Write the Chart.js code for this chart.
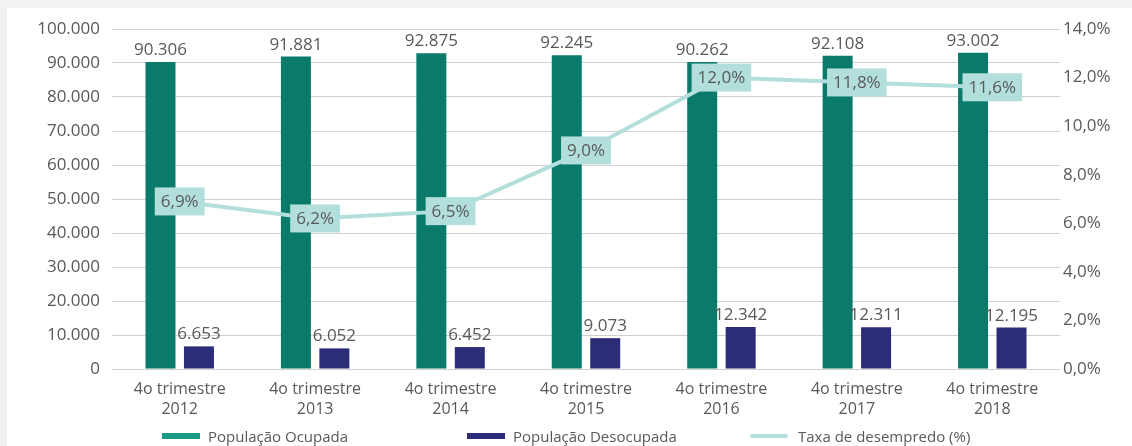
<!DOCTYPE html>
<html lang="pt-BR">
<head>
<meta charset="utf-8">
<script src="https://cdn.jsdelivr.net/npm/chart.js@4.4.1/dist/chart.umd.min.js"></script>
<style>
    html, body { margin: 0; padding: 0; }
    body { width: 1132px; height: 446px; background: #f2f2f2; position: relative; overflow: hidden; font-family: "Open Sans", sans-serif; }
    #painel { position: absolute; left: 7px; top: 8px; right: 0; bottom: 0; background: #fff; }
    #grafico { position: absolute; left: 0; top: 0; }
    #legenda { position: absolute; left: 0; top: 427px; width: 1132px; height: 18px; font-size: 15px; color: #595959; }
    .item { position: absolute; top: 0; height: 18px; display: flex; align-items: center; white-space: nowrap; }
    .item i { display: inline-block; width: 38px; height: 6px; margin-right: 8px; }
    .item i.linha { height: 4px; border-radius: 2px; margin-right: 10px; }
</style>
</head>
<body>
<div id="painel"></div>
<canvas id="grafico" width="1132" height="446"></canvas>
<div id="legenda">
    <div class="item" style="left:162px"><i style="background:#1b9a88"></i>População Ocupada</div>
    <div class="item" style="left:467px"><i style="background:#2b2d78"></i>População Desocupada</div>
    <div class="item" style="left:750px"><i class="linha" style="background:#b2dfdb"></i>Taxa de desempredo (%)</div>
</div>
<script>
// dados (milhares de pessoas e taxa em %)
const categorias = [
    ['4o trimestre', '2012'], ['4o trimestre', '2013'], ['4o trimestre', '2014'],
    ['4o trimestre', '2015'], ['4o trimestre', '2016'], ['4o trimestre', '2017'],
    ['4o trimestre', '2018']
];
const populacaoOcupada = [90306, 91881, 92875, 92245, 90262, 92108, 93002];
const populacaoDesocupada = [6653, 6052, 6452, 9073, 12342, 12311, 12195];
const taxaDesemprego = [6.9, 6.2, 6.5, 9.0, 12.0, 11.8, 11.6];
const ticksPopulacao = [0, 10000, 20000, 30000, 40000, 50000, 60000, 70000, 80000, 90000, 100000];
const ticksTaxa = [0, 2, 4, 6, 8, 10, 12, 14];

const corTexto = '#595959';
const fonte = '"Open Sans", sans-serif';

function formatarMilhar(v) {
    return String(Math.round(v)).replace(/\B(?=(\d{3})+(?!\d))/g, '.');
}
function formatarTaxa(v) {
    return v.toFixed(1).replace('.', ',') + '%';
}

// rótulos em cima das barras e caixas da linha
const rotulosPlugin = {
    id: 'rotulos',
    afterDatasetsDraw(chart) {
        const ctx = chart.ctx;
        ctx.save();
        ctx.font = '17px ' + fonte;
        ctx.textAlign = 'center';
        [0, 1].forEach(function (i) {
            chart.getDatasetMeta(i).data.forEach(function (bar, j) {
                ctx.fillStyle = corTexto;
                ctx.textBaseline = 'alphabetic';
                ctx.fillText(formatarMilhar(chart.data.datasets[i].data[j]), bar.x, bar.y - 7);
            });
        });
        chart.getDatasetMeta(2).data.forEach(function (pt, j) {
            const txt = formatarTaxa(taxaDesemprego[j]);
            const w = ctx.measureText(txt).width + 12;
            const h = 28;
            ctx.fillStyle = '#b2dfdb';
            ctx.fillRect(pt.x - w / 2, pt.y - h / 2, w, h);
            ctx.fillStyle = corTexto;
            ctx.textBaseline = 'middle';
            ctx.fillText(txt, pt.x, pt.y + 1);
        });
        ctx.restore();
    }
};

function initGrafico() {
    const ctx = document.getElementById('grafico').getContext('2d');
    new Chart(ctx, {
        type: 'bar',
        data: {
            labels: categorias,
            datasets: [
                { label: 'População Ocupada', data: populacaoOcupada, backgroundColor: '#0a7a6a', yAxisID: 'y', order: 2 },
                { label: 'População Desocupada', data: populacaoDesocupada, backgroundColor: '#2b2d78', yAxisID: 'y', order: 2 },
                {
                    type: 'line', label: 'Taxa de desempredo (%)', data: taxaDesemprego,
                    borderColor: '#b2dfdb', borderWidth: 4, pointRadius: 0, tension: 0,
                    yAxisID: 'y1', order: 1
                }
            ]
        },
        options: {
            responsive: false,
            animation: false,
            datasets: { bar: { categoryPercentage: 0.568, barPercentage: 0.78 } },
            layout: { padding: { top: 29, left: 0, right: 0, bottom: 0 } },
            plugins: { legend: { display: false }, tooltip: { enabled: false } },
            scales: {
                x: {
                    grid: { display: false },
                    border: { display: false },
                    ticks: { color: corTexto, font: { family: fonte, size: 16, lineHeight: 1.25 }, padding: 2, maxRotation: 0 },
                    afterFit: function (s) { s.height = 77; }
                },
                y: {
                    position: 'left', min: 0, max: 100000,
                    grid: { color: '#d0d0d0', lineWidth: 1, drawTicks: false },
                    border: { display: false },
                    afterBuildTicks: function (s) { s.ticks = ticksPopulacao.map(v => ({ value: v })); },
                    ticks: { color: corTexto, font: { family: fonte, size: 17 }, padding: 12, callback: v => formatarMilhar(v) },
                    afterFit: function (s) { s.width = 112; }
                },
                y1: {
                    position: 'right', min: 0, max: 14,
                    grid: { display: false, drawTicks: false },
                    border: { display: false },
                    afterBuildTicks: function (s) { s.ticks = ticksTaxa.map(v => ({ value: v })); },
                    ticks: { color: corTexto, font: { family: fonte, size: 17 }, padding: 3, callback: v => formatarTaxa(v) },
                    afterFit: function (s) { s.width = 72; }
                }
            }
        },
        plugins: [rotulosPlugin]
    });
}

document.addEventListener('DOMContentLoaded', initGrafico);
</script>
</body>
</html>
